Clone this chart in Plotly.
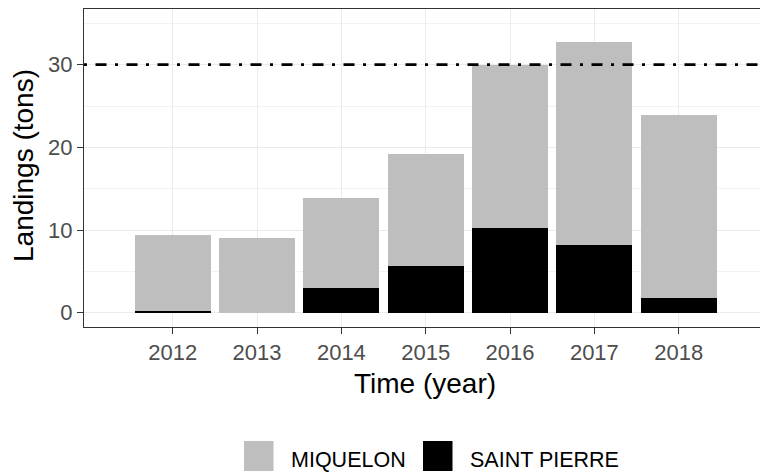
import plotly.graph_objects as go

years = [2012, 2013, 2014, 2015, 2016, 2017, 2018]
saint_pierre = [0.15, 0.0, 2.95, 5.6, 10.25, 8.15, 1.8]
miquelon = [9.21, 9.04, 10.92, 13.63, 19.71, 24.6, 22.15]
reference_line = 30
y_ticks = [0, 10, 20, 30]

FONT = "Liberation Sans, Arial, sans-serif"

fig = go.Figure()
fig.add_trace(go.Bar(x=years, y=saint_pierre, name="SAINT PIERRE", width=0.9,
                     marker=dict(color="#000000", line=dict(width=0)), showlegend=False))
fig.add_trace(go.Bar(x=years, y=miquelon, name="MIQUELON", width=0.9,
                     marker=dict(color="#BEBEBE", line=dict(width=0)), showlegend=False))

fig.add_shape(type="line", xref="paper", x0=0, x1=1, yref="y", y0=reference_line, y1=reference_line,
              line=dict(color="black", width=2.7, dash="3px,8.5px,11px,8.5px"))

fig.update_layout(
    width=760, height=472,
    margin=dict(l=84, r=0, t=9, b=145, autoexpand=False),
    barmode="stack", bargap=0.1,
    plot_bgcolor="white", paper_bgcolor="white",
    font=dict(family=FONT, color="#4D4D4D", size=22),
    hovermode=False,
)
fig.update_xaxes(
    range=[2010.948, 2018.964], tickvals=years, ticktext=[str(y) for y in years],
    showgrid=True, gridcolor="#EBEBEB", gridwidth=1.1,
    showline=True, mirror=True, linecolor="#333333", linewidth=1.1,
    ticks="outside", ticklen=6, tickcolor="#333333", tickwidth=1.1,
    tickfont=dict(size=22, color="#4D4D4D", family=FONT), zeroline=False, automargin=False,
    showspikes=False,
)
fig.update_yaxes(
    range=[-1.73, 36.74], tickvals=y_ticks,
    showgrid=True, gridcolor="#EBEBEB", gridwidth=1.1,
    minor=dict(tickvals=[5, 15, 25, 35], showgrid=True, gridcolor="#F2F2F2", gridwidth=0.6, ticks=""),
    showline=True, mirror=False, linecolor="#333333", linewidth=1.1,
    ticks="outside", ticklen=6, tickcolor="#333333", tickwidth=1.1,
    tickfont=dict(size=22, color="#4D4D4D", family=FONT), zeroline=False, automargin=False,
    showspikes=False,
)

H = 318.0
W = 676.0
def py(p):
    return (327 - p) / H
def px(p):
    return (p - 84) / W

# axis titles
fig.add_annotation(text="Time (year)", xref="paper", yref="paper", x=px(425), y=py(383),
                   xanchor="center", yanchor="middle", showarrow=False,
                   font=dict(size=28, color="black", family=FONT))
fig.add_annotation(text="Landings (tons)", xref="paper", yref="paper", x=px(23), y=py(166),
                   xanchor="center", yanchor="middle", textangle=-90, showarrow=False,
                   font=dict(size=28, color="black", family=FONT))

# legend (manual)
fig.add_shape(type="rect", xref="paper", yref="paper", x0=px(244), x1=px(273.5), y0=py(441), y1=py(471),
              fillcolor="#BEBEBE", line=dict(width=0))
fig.add_shape(type="rect", xref="paper", yref="paper", x0=px(423), x1=px(452.5), y0=py(441), y1=py(471),
              fillcolor="#000000", line=dict(width=0))
fig.add_annotation(text="MIQUELON", xref="paper", yref="paper", x=px(289), y=py(460),
                   xanchor="left", yanchor="middle", showarrow=False,
                   font=dict(size=21.5, color="black", family=FONT))
fig.add_annotation(text="SAINT PIERRE", xref="paper", yref="paper", x=px(468), y=py(460),
                   xanchor="left", yanchor="middle", showarrow=False,
                   font=dict(size=21.5, color="black", family=FONT))

fig.write_html("out.html", config={"displayModeBar": False},
               post_script="document.body.style.margin='0px';document.body.style.overflow='hidden';")
